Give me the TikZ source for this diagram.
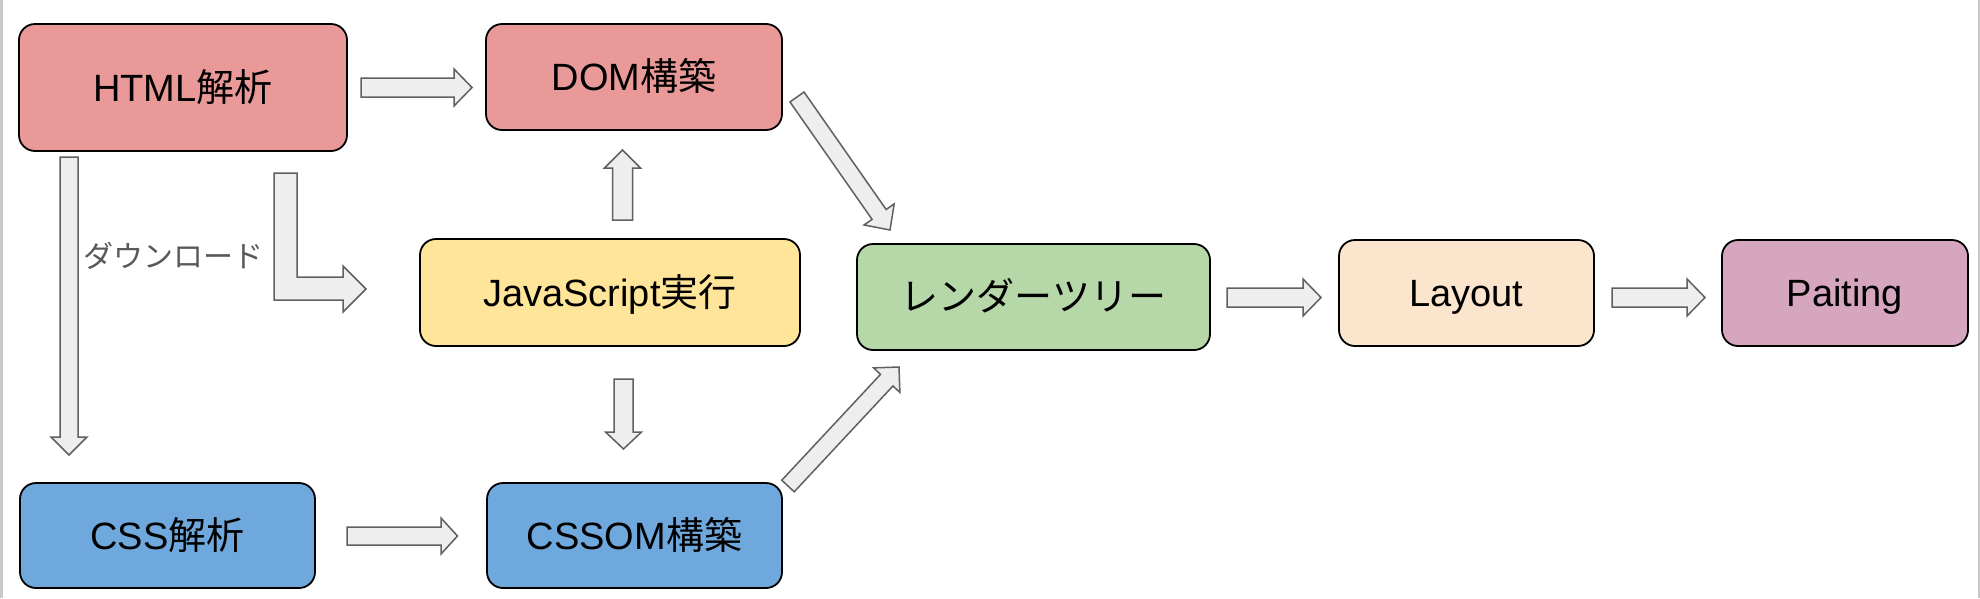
\documentclass[tikz,border=0pt]{standalone}
\usepackage{fontspec}
\setmainfont{Liberation Sans}
\newfontfamily\cjk{Noto Sans CJK JP}
\usetikzlibrary{calc}
\definecolor{boxred}{HTML}{EA9999}
\definecolor{boxyellow}{HTML}{FFE599}
\definecolor{boxgreen}{HTML}{B6D7A8}
\definecolor{boxpeach}{HTML}{FCE5CD}
\definecolor{boxpink}{HTML}{D5A6BD}
\definecolor{boxblue}{HTML}{6FA8DC}
\definecolor{arrowfill}{HTML}{EEEEEE}
\definecolor{arrowline}{HTML}{606060}
\definecolor{labelgray}{HTML}{595959}
\definecolor{framegray}{HTML}{C8C8C8}
\tikzset{
  box/.style={draw=black, line width=1.8pt, rounded corners=16pt, inner sep=0pt,
    font=\fontsize{38}{45}\selectfont, text=black, text height=27.2pt, text depth=0pt},
  barrowstyle/.style={draw=arrowline, fill=arrowfill, line width=1.5pt, line join=miter},
}
% tail, tip, shaft half width, head half width, head length
\newcommand\blockarrow[5]{%
  \coordinate (ba-p) at ($(#2)!#5!(#1)$);
  \filldraw[barrowstyle] ($(#1)!#3!90:(#2)$) -- ($(ba-p)!#3!90:(#2)$) -- ($(ba-p)!#4!90:(#2)$)
    -- (#2) -- ($(ba-p)!#4!-90:(#2)$) -- ($(ba-p)!#3!-90:(#2)$) -- ($(#1)!#3!-90:(#2)$) -- cycle;
}
\begin{document}
\begin{tikzpicture}[x=1pt,y=-1pt]
\useasboundingbox (0,0) rectangle (1980,598);
\fill[white] (0,0) rectangle (1980,598);
\fill[framegray] (0,0) rectangle (2.5,598);
\fill[framegray] (1978,0) rectangle (1979.5,598);

% boxes
\node[box, fill=boxred, minimum width=328pt, minimum height=127pt] (html) at (183,87.5) {HTML{\cjk 解析}};
\node[box, fill=boxred, minimum width=296pt, minimum height=106pt] (dom) at (634,77) {DOM{\cjk 構築}};
\node[box, fill=boxyellow, minimum width=380pt, minimum height=107pt] (js) at (610,292.5) {JavaScript{\cjk 実行}};
\node[box, fill=boxgreen, minimum width=353pt, minimum height=106pt] (render) at (1033.5,297) {{\cjk レンダーツリー}};
\node[box, fill=boxpeach, minimum width=255pt, minimum height=106pt] (layout) at (1466.5,293) {Layout};
\node[box, fill=boxpink, minimum width=246pt, minimum height=106pt] (paint) at (1845,293) {Paiting};
\node[box, fill=boxblue, minimum width=295pt, minimum height=105pt] (css) at (167.5,535.5) {CSS{\cjk 解析}};
\node[box, fill=boxblue, minimum width=295pt, minimum height=105pt] (cssom) at (634.5,535.5) {CSSOM{\cjk 構築}};

% arrow end points
\coordinate (a1s) at (361,87.5);   \coordinate (a1e) at (472,87.5);
\coordinate (a2s) at (622.5,220);  \coordinate (a2e) at (622.5,150);
\coordinate (a3s) at (69,157);     \coordinate (a3e) at (69,455);
\coordinate (a4s) at (623.5,379);  \coordinate (a4e) at (623.5,449);
\coordinate (a5s) at (347,536);    \coordinate (a5e) at (457.5,536);
\coordinate (a6s) at (1227,297.5); \coordinate (a6e) at (1321,297.5);
\coordinate (a7s) at (1612,297.5); \coordinate (a7e) at (1705,297.5);
\coordinate (a8s) at (797,97);     \coordinate (a8e) at (890,230);
\coordinate (a9s) at (788,486);    \coordinate (a9e) at (899,367);

\blockarrow{a1s}{a1e}{9.5pt}{18.5pt}{18pt}
\blockarrow{a2s}{a2e}{10pt}{18pt}{18pt}
\blockarrow{a3s}{a3e}{9pt}{18pt}{18pt}
\blockarrow{a4s}{a4e}{9.5pt}{18pt}{17pt}
\blockarrow{a5s}{a5e}{9pt}{18pt}{16.5pt}
\blockarrow{a6s}{a6e}{9.5pt}{18.5pt}{18pt}
\blockarrow{a7s}{a7e}{9.5pt}{18.5pt}{18pt}
\blockarrow{a8s}{a8e}{8.6pt}{18.4pt}{19pt}
\blockarrow{a9s}{a9e}{8.5pt}{18pt}{18pt}

% bent arrow HTML -> JavaScript
\coordinate (bs) at (285.5,173);
\coordinate (be) at (366,289);
\filldraw[barrowstyle] (274,173) -- (297,173) -- (297,277) -- (343,277) -- (343,266)
  -- (be) -- (343,312) -- (343,300) -- (274,300) -- cycle;

% label
\node[font=\cjk\fontsize{30}{35}\selectfont, text=labelgray, inner sep=0pt] (dl) at (173,256) {ダウンロード};
\end{tikzpicture}
\end{document}
